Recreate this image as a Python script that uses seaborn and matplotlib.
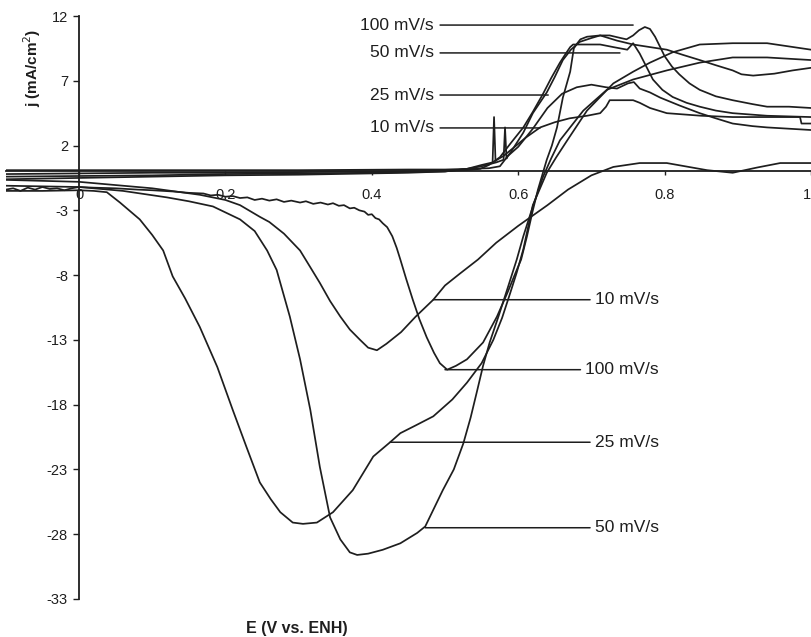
import numpy as np
import pandas as pd
import matplotlib
matplotlib.use("Agg")
import matplotlib.pyplot as plt
import seaborn as sns

# ---------------- data ----------------
# 10 mV/s
e10_fwd = [-0.1, 0.0, 0.1, 0.2, 0.3, 0.4, 0.45, 0.5, 0.53, 0.55, 0.565, 0.567, 0.569, 0.571, 0.58, 0.593,
           0.61, 0.63, 0.65, 0.67, 0.694, 0.712, 0.72, 0.725, 0.757, 0.766, 0.78, 0.803, 0.85, 0.893, 0.95,
           0.985, 0.987, 1.0]
j10_fwd = [-0.6, -0.5, -0.4, -0.3, -0.25, -0.15, -0.1, 0.0, 0.2, 0.5, 0.7, 4.2, 0.8, 0.9, 1.2, 1.8,
           2.6, 3.4, 3.8, 4.1, 4.3, 4.5, 5.0, 5.5, 5.5, 5.3, 4.9, 4.5, 4.3, 4.2, 4.2,
           4.2, 3.7, 3.7]
e10_rev = [1.0, 0.958, 0.926, 0.893, 0.858, 0.803, 0.766, 0.73, 0.70, 0.668, 0.64, 0.6, 0.57, 0.545,
           0.52, 0.5, 0.484, 0.46, 0.44, 0.42, 0.407, 0.395, 0.384, 0.37, 0.357, 0.343, 0.329, 0.315,
           0.302, 0.28, 0.26, 0.247, 0.22, 0.2, 0.165, 0.1, 0.0, -0.1]
j10_rev = [0.65, 0.65, 0.3, -0.1, 0.1, 0.65, 0.65, 0.35, -0.3, -1.4, -2.6, -4.2, -5.5, -6.8,
           -7.9, -8.8, -9.9, -11.2, -12.4, -13.3, -13.8, -13.6, -13.0, -12.2, -11.2, -10.0, -8.6, -7.3,
           -6.1, -4.8, -3.9, -3.5, -2.6, -2.2, -1.8, -1.3, -0.8, -0.65]

# 25 mV/s
e25_fwd = [-0.1, 0.0, 0.1, 0.2, 0.3, 0.4, 0.5, 0.53, 0.55, 0.57, 0.58, 0.582, 0.584, 0.586, 0.6, 0.62,
           0.64, 0.66, 0.68, 0.70, 0.72, 0.735, 0.75, 0.758, 0.766, 0.78, 0.794, 0.82, 0.848, 0.87, 0.893,
           0.92, 0.94, 0.97, 1.0]
j25_fwd = [-0.4, -0.35, -0.3, -0.2, -0.15, -0.1, 0.0, 0.2, 0.4, 0.7, 0.9, 3.4, 1.0, 1.2, 1.9, 3.3,
           4.9, 6.0, 6.5, 6.7, 6.5, 6.4, 6.8, 6.9, 6.4, 6.1, 5.7, 5.1, 4.5, 4.1, 3.7,
           3.5, 3.4, 3.3, 3.2]
e25_rev = [1.0, 0.94, 0.893, 0.848, 0.811, 0.78, 0.757, 0.73, 0.694, 0.667, 0.652, 0.639, 0.62, 0.607,
           0.598, 0.589, 0.578, 0.566, 0.55, 0.53, 0.51, 0.484, 0.46, 0.439, 0.425, 0.402, 0.374, 0.347,
           0.325, 0.306, 0.292, 0.275, 0.262, 0.247, 0.229, 0.21, 0.189, 0.165, 0.145, 0.128, 0.115,
           0.1, 0.083, 0.056, 0.038, 0.02, 0.0, -0.05, -0.1]
j25_rev = [9.4, 9.9, 9.9, 9.8, 9.2, 8.4, 7.7, 6.8, 4.7, 2.4, 1.1, -0.1, -2.6, -6.0,
           -7.8, -9.4, -11.3, -13.0, -14.8, -16.3, -17.6, -18.9, -19.6, -20.2, -20.9, -22.0, -24.6, -26.3,
           -27.1, -27.2, -27.1, -26.3, -25.3, -24.0, -21.3, -18.4, -15.1, -12.0, -9.8, -8.1, -6.1,
           -4.9, -3.7, -2.4, -1.6, -1.5, -1.45, -1.5, -1.5]

# 50 mV/s
e50_fwd = [-0.1, 0.0, 0.1, 0.2, 0.3, 0.4, 0.5, 0.53, 0.548, 0.56, 0.575, 0.59, 0.607, 0.62, 0.634, 0.645,
           0.657, 0.665, 0.671, 0.675, 0.685, 0.694, 0.712, 0.73, 0.749, 0.757, 0.766, 0.775, 0.784,
           0.797, 0.811, 0.83, 0.848, 0.87, 0.893, 0.94, 1.0]
j50_fwd = [-0.2, -0.15, -0.1, -0.1, -0.05, 0.0, 0.05, 0.1, 0.2, 0.5, 1.1, 2.2, 3.4, 4.6, 6.0, 7.2,
           8.4, 9.1, 9.6, 9.8, 9.8, 9.8, 9.8, 9.6, 9.4, 9.9, 9.1, 8.1, 7.1,
           6.3, 5.75, 5.3, 5.0, 4.7, 4.5, 4.3, 4.2]
e50_rev = [1.0, 0.94, 0.893, 0.848, 0.803, 0.757, 0.721, 0.689, 0.657, 0.645, 0.634, 0.62, 0.607, 0.598,
           0.585, 0.573, 0.561, 0.552, 0.544, 0.535, 0.525, 0.512, 0.497, 0.485, 0.473, 0.462, 0.439,
           0.415, 0.395, 0.38, 0.37, 0.357, 0.343, 0.329, 0.316, 0.302, 0.288, 0.27, 0.257, 0.24, 0.22,
           0.183, 0.15, 0.12, 0.06, 0.0, -0.1]
j50_rev = [8.6, 8.8, 8.8, 8.4, 7.8, 7.1, 6.3, 4.7, 2.4, 1.0, -0.4, -2.7, -5.0, -6.8,
           -9.1, -11.2, -13.2, -15.0, -16.9, -19.0, -21.0, -23.0, -24.6, -26.0, -27.4, -27.9, -28.7,
           -29.2, -29.5, -29.6, -29.4, -28.4, -26.7, -22.8, -18.4, -14.5, -11.2, -7.6, -6.1, -4.6, -3.7,
           -2.7, -2.3, -2.0, -1.5, -1.2, -1.1]

# 100 mV/s
e100_fwd = [-0.1, 0.1, 0.3, 0.45, 0.5, 0.53, 0.56, 0.575, 0.59, 0.607, 0.62, 0.639, 0.65, 0.661, 0.672,
            0.684, 0.70, 0.712, 0.725, 0.74, 0.748, 0.757, 0.765, 0.773, 0.78, 0.787, 0.794, 0.80, 0.81,
            0.82, 0.834, 0.848, 0.87, 0.893, 0.92, 0.94, 0.97, 1.0]
j100_fwd = [0.1, 0.1, 0.1, 0.15, 0.15, 0.2, 0.25, 0.4, 1.5, 3.0, 4.5, 6.1, 7.3, 8.6, 9.4,
            10.0, 10.3, 10.5, 10.5, 10.3, 10.2, 10.5, 10.9, 11.15, 11.0, 10.4, 9.6, 8.9, 8.1,
            7.5, 6.8, 6.3, 5.8, 5.5, 5.2, 5.0, 5.0, 4.9]
e100_rev = [1.0, 0.975, 0.95, 0.921, 0.905, 0.893, 0.87, 0.848, 0.825, 0.803, 0.78, 0.757, 0.735, 0.712,
            0.694, 0.685, 0.68, 0.676, 0.671, 0.661, 0.653, 0.646, 0.639, 0.627, 0.62, 0.612, 0.604,
            0.598, 0.585, 0.571, 0.552, 0.53, 0.515, 0.503, 0.493, 0.485, 0.475, 0.465, 0.456, 0.447,
            0.439, 0.434, 0.428, 0.421, 0.415, 0.41, 0.405, 0.40, 0.395, 0.39, 0.383, 0.376, 0.37,
            0.362, 0.355, 0.347, 0.34, 0.33, 0.32, 0.31, 0.302, 0.29, 0.28, 0.27, 0.26, 0.25, 0.24,
            0.23, 0.22, 0.21, 0.2, 0.19, 0.18, 0.17, 0.15, 0.13, 0.1, 0.08, 0.05, 0.02, 0.0, -0.01,
            -0.02, -0.03, -0.04, -0.05, -0.06, -0.07, -0.08, -0.09, -0.1]
j100_rev = [8.0, 7.8, 7.55, 7.4, 7.5, 7.8, 8.2, 8.6, 9.0, 9.4, 9.6, 9.8, 10.1, 10.5,
            10.4, 10.2, 9.84, 9.5, 7.7, 5.7, 3.4, 2.0, 0.9, -1.4, -3.0, -5.0, -6.8,
            -7.6, -9.4, -11.2, -13.2, -14.5, -15.0, -15.3, -14.8, -14.0, -12.8, -11.4, -9.9, -8.3,
            -6.8, -5.9, -5.0, -4.3, -4.0, -3.7, -3.6, -3.3, -3.35, -3.1, -3.0, -2.8, -2.85,
            -2.6, -2.65, -2.45, -2.55, -2.4, -2.5, -2.3, -2.4, -2.25, -2.35, -2.15, -2.25, -2.1, -2.2,
            -2.0, -2.05, -1.9, -1.95, -1.8, -1.85, -1.7, -1.65, -1.55, -1.45, -1.4, -1.3, -1.25, -1.2, -1.3,
            -1.45, -1.3, -1.35, -1.2, -1.4, -1.25, -1.5, -1.3, -1.4]

# labels
top_labels = ["100 mV/s", "50 mV/s", "25 mV/s", "10 mV/s"]
top_label_j = [11.3, 9.15, 5.9, 3.36]
top_label_end_e = [0.757, 0.739, 0.641, 0.63]
bot_labels = ["10 mV/s", "100 mV/s", "25 mV/s", "50 mV/s"]
bot_label_e = [0.484, 0.50, 0.425, 0.473]
bot_label_j = [-9.9, -15.3, -20.9, -27.5]

yticks = [12, 7, 2, -3, -8, -13, -18, -23, -28, -33]
xticks = [0, 0.2, 0.4, 0.6, 0.8, 1.0]
xtick_labels = ["0", "0.2", "0.4", "0.6", "0.8", "1"]

# ---------------- build table ----------------
frames = []
branches = [
    ("10 mV/s", "fwd", e10_fwd, j10_fwd), ("10 mV/s", "rev", e10_rev, j10_rev),
    ("25 mV/s", "fwd", e25_fwd, j25_fwd), ("25 mV/s", "rev", e25_rev, j25_rev),
    ("50 mV/s", "fwd", e50_fwd, j50_fwd), ("50 mV/s", "rev", e50_rev, j50_rev),
    ("100 mV/s", "fwd", e100_fwd, j100_fwd), ("100 mV/s", "rev", e100_rev, j100_rev),
]
for rate, br, e, j in branches:
    frames.append(pd.DataFrame({"E": e, "j": j, "rate": rate, "unit": rate + br,
                                "order": np.arange(len(e))}))
df = pd.concat(frames, ignore_index=True)

# ---------------- plot ----------------
sns.set_style("ticks")
plt.rcParams["font.family"] = ["Liberation Sans", "DejaVu Sans"]
ink = "#1e1e1e"

fig = plt.figure(figsize=(8.12, 6.37), dpi=100)
ax = fig.add_axes([5.8 / 812, 1 - 599 / 637, (811 - 5.8) / 812, (599 - 16) / 637])

sns.lineplot(data=df, x="E", y="j", units="unit", estimator=None, sort=False,
             color=ink, lw=1.25, legend=False, ax=ax)

ax.set_xlim(-0.1, 1.0)
ax.set_ylim(-33, 12)
for s in ["top", "right"]:
    ax.spines[s].set_visible(False)
ax.spines["left"].set_position(("data", 0))
ax.spines["bottom"].set_position(("data", 0))
ax.spines["left"].set_color(ink)
ax.spines["bottom"].set_color(ink)
ax.spines["left"].set_linewidth(1.3)
ax.spines["bottom"].set_linewidth(1.3)

ax.set_yticks(yticks)
ax.set_yticklabels([str(t) for t in yticks])
ax.set_xticks(xticks)
ax.set_xticklabels(xtick_labels)
ax.tick_params(axis="y", direction="out", length=4, width=1, pad=4, labelsize=10.5,
               colors=ink)
ax.tick_params(axis="x", direction="out", length=3, width=1, pad=9, labelsize=10.5,
               colors=ink)
# keep the last x label ("1") inside the canvas
ax.get_xticklabels()[-1].set_horizontalalignment("right")
ax.set_xlabel("")
ax.set_ylabel("")
ax.patch.set_alpha(0)

# top labels
for txt, jy, e_end in zip(top_labels, top_label_j, top_label_end_e):
    ax.annotate(txt, xy=(e_end, jy), xytext=(0.485, jy), ha="right", va="center",
                fontsize=12.5, color=ink,
                arrowprops=dict(arrowstyle="-", color=ink, lw=1.1, shrinkA=2, shrinkB=0,
                                relpos=(1, 0.5)))
# bottom labels
for txt, e0, j0 in zip(bot_labels, bot_label_e, bot_label_j):
    ax.annotate(txt, xy=(e0, j0), xytext=(0.792, j0), ha="right", va="center",
                fontsize=12.5, color=ink,
                arrowprops=dict(arrowstyle="-", color=ink, lw=1.1, shrinkA=1, shrinkB=0,
                                relpos=(0, 0.5)))

fig.text(297 / 812, 1 - 628 / 637, "E (V vs. ENH)", ha="center", va="center",
         fontsize=11.5, fontweight="bold", color=ink)
fig.text(32 / 812, 1 - 68 / 637, "j (mA/cm$^{2}$)", ha="center", va="center",
         rotation=90, fontsize=11, fontweight="bold", color=ink)

fig.savefig("out.png", dpi=100, facecolor="white")
